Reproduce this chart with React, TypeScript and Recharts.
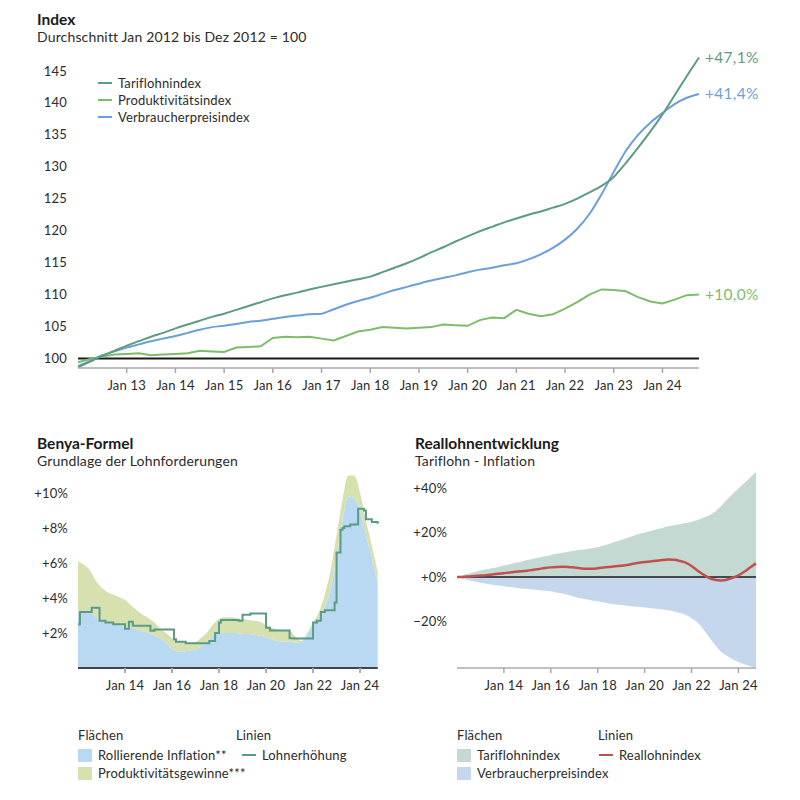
import React from 'react';
import { ComposedChart, LineChart, Line, Area, XAxis, YAxis, ReferenceLine } from 'recharts';

const FONT = 'Lato, "DejaVu Sans", sans-serif';
const TEXT = '#2b2b2b';

// month offsets from Jan 2012, one per quarter (Jan 12 .. Oct 24)
const quarterMonths = [
  0, 3, 6, 9, 12, 15, 18, 21, 24, 27, 30, 33, 36, 39, 42, 45, 48, 51, 54, 57, 60, 63, 66, 69, 72, 75,
  78, 81, 84, 87, 90, 93, 96, 99, 102, 105, 108, 111, 114, 117, 120, 123, 126, 129, 132, 135, 138,
  141, 144, 147, 150, 153,
];

// --- Index chart ---
const tariflohnIndex = [
  98.6, 99.5, 100.4, 101.2, 102.0, 102.7, 103.4, 104.0, 104.7, 105.3, 105.9, 106.5, 107.0, 107.6,
  108.2, 108.8, 109.4, 109.9, 110.3, 110.8, 111.2, 111.6, 112.0, 112.4, 112.8, 113.5, 114.2, 114.9,
  115.7, 116.6, 117.4, 118.3, 119.1, 119.9, 120.6, 121.3, 121.9, 122.5, 123.0, 123.6, 124.2, 125.0,
  126.0, 127.0, 128.4, 130.6, 133.0, 135.5, 138.2, 141.2, 144.2, 147.1,
];
const produktivitaetsIndex = [
  99.4, 99.9, 100.3, 100.6, 100.7, 100.8, 100.5, 100.6, 100.7, 100.8, 101.2, 101.1, 101.0, 101.7,
  101.8, 101.9, 103.2, 103.4, 103.3, 103.4, 103.1, 102.8, 103.5, 104.2, 104.5, 104.9, 104.8, 104.7,
  104.8, 104.9, 105.3, 105.2, 105.1, 106.0, 106.4, 106.3, 107.6, 107.0, 106.6, 106.9, 107.8, 108.8,
  110.0, 110.8, 110.7, 110.5, 109.6, 108.9, 108.6, 109.2, 109.9, 110.0,
];
const verbraucherpreisIndex = [
  98.8, 99.6, 100.5, 101.1, 101.7, 102.2, 102.7, 103.1, 103.5, 104.0, 104.5, 104.9, 105.1, 105.4,
  105.7, 105.9, 106.2, 106.5, 106.7, 106.9, 107.0, 107.7, 108.4, 109.0, 109.5, 110.1, 110.7, 111.2,
  111.7, 112.2, 112.6, 113.0, 113.5, 113.9, 114.2, 114.6, 114.9, 115.5, 116.3, 117.3, 118.6, 120.3,
  122.6, 125.7, 129.2, 132.5, 135.0, 136.9, 138.4, 139.8, 140.8, 141.4,
];
const topTicks = [12, 24, 36, 48, 60, 72, 84, 96, 108, 120, 132, 144];
const topTickLabels = ['Jan 13', 'Jan 14', 'Jan 15', 'Jan 16', 'Jan 17', 'Jan 18', 'Jan 19', 'Jan 20', 'Jan 21', 'Jan 22', 'Jan 23', 'Jan 24'];
const indexTicks = [100, 105, 110, 115, 120, 125, 130, 135, 140, 145];

// --- Benya-Formel ---
const rollierendeInflation = [
  3.2, 3.25, 3.2, 2.95, 2.7, 2.6, 2.5, 2.45, 2.35, 2.3, 2.2, 2.1, 2.0, 1.85, 1.7, 1.45, 1.1, 0.95,
  0.95, 1.0, 1.05, 1.25, 1.55, 1.85, 2.0, 2.0, 2.0, 2.0, 1.95, 1.95, 1.9, 1.85, 1.75, 1.65, 1.55, 1.5,
  1.5, 1.45, 1.5, 1.9, 2.4, 2.9, 3.5, 4.5, 6.3, 8.4, 9.8, 9.7, 9.0, 7.6, 6.3, 4.8,
];
const produktivitaetsgewinne = [
  2.9, 2.65, 2.4, 2.05, 1.9, 1.75, 1.7, 1.6, 1.55, 1.3, 1.1, 0.95, 0.85, 0.75, 0.55, 0.55, 0.6, 0.6,
  0.55, 0.45, 0.45, 0.5, 0.5, 0.65, 0.8, 0.9, 0.9, 0.85, 0.85, 0.8, 0.8, 0.8, 0.7, 0.65, 0.65, 0.65,
  0.65, 0.35, 0.05, 0.1, 0.2, 0.3, 0.7, 1.1, 1.3, 1.2, 1.2, 1.3, 1.0, 0.8, 0.7, 0.7,
];
// Lohnerhöhung changes in steps
const lohnMonths = [
  0, 1, 7, 11, 14, 18, 24, 26, 28, 37, 39, 49, 50, 55, 67, 70, 72, 73, 82, 84, 88, 96, 98, 108, 110,
  120, 122, 124, 126, 131, 132, 134, 135, 136, 139, 143, 146, 147, 150, 153,
];
const lohnerhoehung = [
  2.5, 3.2, 3.45, 2.7, 2.6, 2.5, 2.25, 2.65, 2.42, 2.13, 2.2, 1.65, 1.5, 1.42, 1.55, 2.0, 2.6, 2.75,
  2.7, 3.05, 3.12, 2.3, 2.15, 1.7, 1.68, 2.6, 2.7, 3.2, 3.3, 3.75, 6.6, 7.9, 8.0, 8.1, 8.2, 9.1, 9.0,
  8.5, 8.35, 8.25,
];

// --- Reallohnentwicklung ---
const tariflohnPct = [
  0, 0.8, 1.6, 2.3, 3.0, 3.5, 4.0, 4.6, 5.2, 5.8, 6.5, 7.1, 7.7, 8.3, 8.9, 9.4, 10.0, 10.5, 11.0,
  11.5, 11.9, 12.3, 12.6, 13.0, 13.5, 14.3, 15.1, 16.0, 16.8, 17.7, 18.6, 19.4, 20.1, 20.8, 21.5,
  22.2, 22.9, 23.4, 23.9, 24.4, 25.0, 25.8, 26.8, 27.9, 29.5, 32.0, 34.8, 37.5, 40.0, 42.5, 45.0, 47.4,
];
const verbraucherpreisPct = [
  0, -0.7, -1.4, -2.0, -2.5, -3.0, -3.4, -3.8, -4.1, -4.5, -4.8, -5.1, -5.4, -5.6, -5.9, -6.1, -6.4,
  -6.9, -7.4, -8.1, -8.8, -9.4, -10.0, -10.5, -10.9, -11.4, -11.9, -12.3, -12.6, -12.9, -13.2, -13.4,
  -13.7, -14.0, -14.3, -14.6, -14.9, -15.4, -16.2, -17.0, -18.5, -20.5, -23.5, -27.0, -30.5, -33.5,
  -35.5, -37.0, -38.3, -39.3, -40.2, -40.9,
];
const reallohnIndex = [
  0, 0.1, 0.3, 0.5, 0.7, 0.9, 1.2, 1.5, 1.8, 2.1, 2.4, 2.6, 2.9, 3.3, 3.7, 4.1, 4.4, 4.6, 4.7, 4.6,
  4.3, 4.0, 3.8, 3.8, 4.0, 4.3, 4.6, 4.9, 5.1, 5.5, 6.0, 6.5, 6.8, 7.1, 7.4, 7.7, 7.9, 7.8, 7.3, 6.5,
  5.0, 3.0, 1.2, -0.4, -1.2, -1.5, -1.2, -0.3, 0.8, 2.4, 4.3, 6.2,
];
const bottomTicks = [24, 48, 72, 96, 120, 144];
const bottomTickLabels = ['Jan 14', 'Jan 16', 'Jan 18', 'Jan 20', 'Jan 22', 'Jan 24'];

const C = {
  tarif: '#5e9c80',
  prod: '#7cbd6c',
  vpi: '#6b9fdb',
  inflArea: '#b9d8f1',
  prodArea: '#d6e1af',
  lohn: '#5a9a88',
  tarifArea: '#c4d9d2',
  vpiArea: '#c5d7ec',
  real: '#c0504d',
};

const indexData = quarterMonths.map((m, i) => ({
  m,
  tarif: tariflohnIndex[i],
  prod: produktivitaetsIndex[i],
  vpi: verbraucherpreisIndex[i],
}));
const benyaData = quarterMonths.map((m, i) => ({
  m,
  infl: rollierendeInflation[i],
  prod: produktivitaetsgewinne[i],
}));
const lohnData = lohnMonths.map((m, i) => ({ m, v: lohnerhoehung[i] }));
const realData = quarterMonths.map((m, i) => ({
  m,
  tarif: tariflohnPct[i],
  vpi: verbraucherpreisPct[i],
  real: reallohnIndex[i],
}));

const tickStyle = { fill: TEXT, fontSize: 13, fontFamily: FONT, letterSpacing: 0.2 };

const endLabel = (color: string) => (props: any) => {
  const { x, y, index, value } = props;
  if (index !== quarterMonths.length - 1) return <g key={`e${index}`} />;
  const txt = `+${(value - 100).toFixed(1).replace('.', ',')}%`;
  return (
    <text key={`e${index}`} x={x + 6} y={y} dy={5} fill={color} fontSize={15.5} fontFamily={FONT} letterSpacing={0.3}>
      {txt}
    </text>
  );
};

const pct = (v: number) => (v < 0 ? `\u2212${-v}%` : `+${v}%`);

function Title({ x, y, title, sub }: { x: number; y: number; title: string; sub: string }) {
  return (
    <div style={{ position: 'absolute', left: x, top: y, fontFamily: FONT, color: '#1a1a1a', whiteSpace: 'nowrap' }}>
      <div style={{ fontWeight: 700, fontSize: 15.5, lineHeight: '18px' }}>{title}</div>
      <div style={{ fontSize: 14, lineHeight: '18px', color: TEXT, letterSpacing: 0.15 }}>{sub}</div>
    </div>
  );
}

function Swatch({ color }: { color: string }) {
  return <span style={{ display: 'inline-block', width: 14, height: 13, background: color, marginRight: 6 }} />;
}

function Dash({ color }: { color: string }) {
  return <span style={{ display: 'inline-block', width: 14, height: 2, background: color, marginRight: 6, verticalAlign: 'middle' }} />;
}

const legendText: React.CSSProperties = {
  position: 'absolute',
  fontFamily: FONT,
  fontSize: 13,
  letterSpacing: 0.15,
  color: TEXT,
  lineHeight: '18px',
  whiteSpace: 'nowrap',
  display: 'flex',
  alignItems: 'center',
};

export default function App() {
  return (
    <div style={{ position: 'relative', width: 800, height: 800, background: '#fff' }}>
      <style>{'body{margin:0}'}</style>

      {/* Index */}
      <div style={{ position: 'absolute', left: 0, top: 0 }}>
        <LineChart width={800} height={400} data={indexData} margin={{ top: 39, right: 101, bottom: 2, left: 0 }}>
          <XAxis
            dataKey="m"
            type="number"
            domain={[0, 153]}
            ticks={topTicks}
            tickFormatter={(v) => topTickLabels[topTicks.indexOf(v)]}
            height={30}
            stroke="#a8a8a8"
            strokeWidth={1.5}
            tickSize={5}
            tickMargin={8}
            tick={tickStyle}
          />
          <YAxis
            type="number"
            domain={[98.5, 150]}
            ticks={indexTicks}
            width={78}
            axisLine={false}
            tickLine={false}
            tickSize={0}
            tickMargin={11}
            tick={tickStyle}
          />
          <ReferenceLine y={100} stroke="#1a1a1a" strokeWidth={2} />
          <Line dataKey="prod" type="linear" stroke={C.prod} strokeWidth={2} dot={false} isAnimationActive={false} label={endLabel(C.prod)} />
          <Line dataKey="vpi" type="monotone" stroke={C.vpi} strokeWidth={2} dot={false} isAnimationActive={false} label={endLabel(C.vpi)} />
          <Line dataKey="tarif" type="monotone" stroke={C.tarif} strokeWidth={2} dot={false} isAnimationActive={false} label={endLabel(C.tarif)} />
        </LineChart>
      </div>
      <Title x={37} y={10} title="Index" sub="Durchschnitt Jan 2012 bis Dez 2012 = 100" />
      <div style={{ ...legendText, left: 98, top: 74 }}><Dash color={C.tarif} />Tariflohnindex</div>
      <div style={{ ...legendText, left: 98, top: 91 }}><Dash color={C.prod} />Produktivitätsindex</div>
      <div style={{ ...legendText, left: 98, top: 108 }}><Dash color={C.vpi} />Verbraucherpreisindex</div>

      {/* Benya-Formel */}
      <div style={{ position: 'absolute', left: 0, top: 400 }}>
        <ComposedChart width={400} height={300} data={benyaData} margin={{ top: 66.75, right: 22.3, bottom: 2, left: 0 }}>
          <XAxis
            dataKey="m"
            type="number"
            domain={[0, 153]}
            ticks={bottomTicks}
            tickFormatter={(v) => bottomTickLabels[bottomTicks.indexOf(v)]}
            height={30}
            stroke="#444"
            strokeWidth={2}
            tickLine={{ stroke: '#aaa' }}
            tickSize={5}
            tickMargin={8}
            tick={tickStyle}
          />
          <YAxis
            type="number"
            domain={[0, 11.5]}
            ticks={[2, 4, 6, 8, 10]}
            tickFormatter={pct}
            width={78}
            axisLine={false}
            tickLine={false}
            tickSize={0}
            tickMargin={10}
            tick={tickStyle}
          />
          <Area dataKey="infl" stackId="a" type="monotone" stroke="none" fill={C.inflArea} fillOpacity={1} isAnimationActive={false} />
          <Area dataKey="prod" stackId="a" type="monotone" stroke="none" fill={C.prodArea} fillOpacity={1} isAnimationActive={false} />
          <Line data={lohnData} dataKey="v" type="stepAfter" stroke={C.lohn} strokeWidth={2} dot={false} isAnimationActive={false} />
        </ComposedChart>
      </div>
      <Title x={37} y={434} title="Benya-Formel" sub="Grundlage der Lohnforderungen" />

      {/* Reallohnentwicklung */}
      <div style={{ position: 'absolute', left: 400, top: 400 }}>
        <ComposedChart width={400} height={300} data={realData} margin={{ top: 66.3, right: 44, bottom: 2, left: 0 }}>
          <XAxis
            dataKey="m"
            type="number"
            domain={[0, 153]}
            ticks={bottomTicks}
            tickFormatter={(v) => bottomTickLabels[bottomTicks.indexOf(v)]}
            height={30}
            stroke="#aaa"
            strokeWidth={1.5}
            tickSize={5}
            tickMargin={8}
            tick={tickStyle}
          />
          <YAxis
            type="number"
            domain={[-41, 50]}
            ticks={[-20, 0, 20, 40]}
            tickFormatter={pct}
            width={57}
            axisLine={false}
            tickLine={false}
            tickSize={0}
            tickMargin={10}
            tick={tickStyle}
          />
          <Area dataKey="tarif" type="monotone" stroke="none" fill={C.tarifArea} fillOpacity={1} isAnimationActive={false} />
          <Area dataKey="vpi" type="monotone" stroke="none" fill={C.vpiArea} fillOpacity={1} isAnimationActive={false} />
          <ReferenceLine y={0} stroke="#1a1a1a" strokeWidth={1.5} />
          <Line dataKey="real" type="monotone" stroke={C.real} strokeWidth={2.5} dot={false} isAnimationActive={false} />
        </ComposedChart>
      </div>
      <Title x={415} y={434} title="Reallohnentwicklung" sub="Tariflohn - Inflation" />

      {/* Legends */}
      <div style={{ ...legendText, left: 78, top: 726 }}>Flächen</div>
      <div style={{ ...legendText, left: 236, top: 726 }}>Linien</div>
      <div style={{ ...legendText, left: 78, top: 746 }}><Swatch color={C.inflArea} />Rollierende Inflation**</div>
      <div style={{ ...legendText, left: 78, top: 764 }}><Swatch color={C.prodArea} />Produktivitätsgewinne***</div>
      <div style={{ ...legendText, left: 242, top: 746 }}><Dash color={C.lohn} />Lohnerhöhung</div>

      <div style={{ ...legendText, left: 457, top: 726 }}>Flächen</div>
      <div style={{ ...legendText, left: 598, top: 726 }}>Linien</div>
      <div style={{ ...legendText, left: 457, top: 746 }}><Swatch color={C.tarifArea} />Tariflohnindex</div>
      <div style={{ ...legendText, left: 457, top: 764 }}><Swatch color={C.vpiArea} />Verbraucherpreisindex</div>
      <div style={{ ...legendText, left: 599, top: 746 }}><Dash color={C.real} />Reallohnindex</div>
    </div>
  );
}
